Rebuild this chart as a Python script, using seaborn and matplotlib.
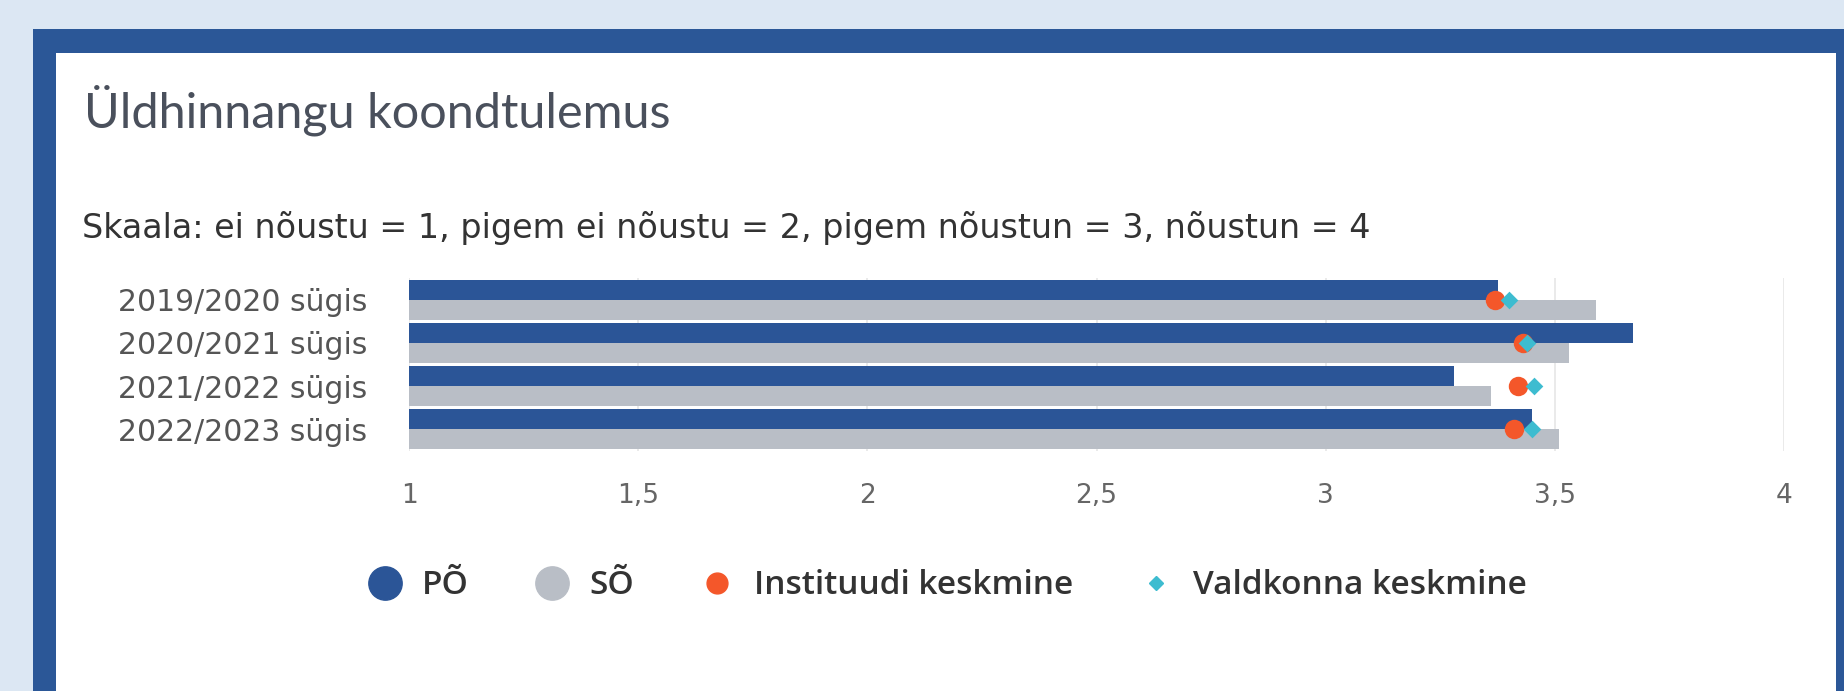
import matplotlib
matplotlib.use("Agg")
import matplotlib.pyplot as plt
from matplotlib.lines import Line2D
from matplotlib.patches import Rectangle
import pandas as pd
import seaborn as sns

# chart data
categories = ["2019/2020 sügis", "2020/2021 sügis", "2021/2022 sügis", "2022/2023 sügis"]
series_names = ["PÕ", "SÕ"]
po_values = [3.375, 3.67, 3.28, 3.45]
so_values = [3.59, 3.53, 3.36, 3.51]
instituut_avg = [3.37, 3.43, 3.42, 3.41]
valdkond_avg = [3.40, 3.44, 3.455, 3.45]
x_ticks = [1, 1.5, 2, 2.5, 3, 3.5, 4]
x_tick_labels = ["1", "1,5", "2", "2,5", "3", "3,5", "4"]
legend_labels = ["PÕ", "SÕ", "Instituudi keskmine", "Valdkonna keskmine"]

title = "Üldhinnangu koondtulemus"
subtitle = "Skaala: ei nõustu = 1, pigem ei nõustu = 2, pigem nõustun = 3, nõustun = 4"

# colours
PAGE_BG = "#dce7f3"
FRAME = "#2b5797"
PO_COLOR = "#2b5597"
SO_COLOR = "#b9bec6"
INST_COLOR = "#f4572a"
VALD_COLOR = "#3dbcd0"

W, H = 1844, 691

sns.set_theme(style="white")
plt.rcParams["font.family"] = ["DejaVu Sans"]

fig = plt.figure(figsize=(W / 100, H / 100), dpi=100)
fig.patch.set_facecolor(PAGE_BG)

# dark blue frame and white card
fig.add_artist(Rectangle((33 / W, 0), 1, 1 - 29 / H, transform=fig.transFigure,
                         facecolor=FRAME, edgecolor="none", zorder=0))
fig.add_artist(Rectangle((56 / W, 0), (1836 - 56) / W, 1 - 53 / H, transform=fig.transFigure,
                         facecolor="white", edgecolor="none", zorder=0))

fig.text(84 / W, 1 - 127 / H, title, fontsize=35, color="#4a505c",
         family=["Lato", "DejaVu Sans"], va="baseline", ha="left")
fig.text(82 / W, 1 - 238 / H, subtitle, fontsize=24, color="#333333",
         family=["DejaVu Sans"], va="baseline", ha="left")

# plot area
top, bottom = 278, 451
ax = fig.add_axes([409 / W, 1 - bottom / H, (1784 - 409) / W, (bottom - top) / H])
ax.set_facecolor("none")

df = pd.DataFrame({
    "period": categories * 2,
    "value": po_values + so_values,
    "series": [series_names[0]] * len(categories) + [series_names[1]] * len(categories),
})

sns.barplot(data=df, x="value", y="period", hue="series", order=categories,
            hue_order=series_names, palette=[PO_COLOR, SO_COLOR], saturation=1,
            width=0.92, orient="h", legend=False, linewidth=0, ax=ax, zorder=2)

sns.stripplot(x=instituut_avg, y=categories, order=categories, jitter=False,
              color=INST_COLOR, size=14, marker="o", linewidth=0, ax=ax, zorder=3)
sns.stripplot(x=valdkond_avg, y=categories, order=categories, jitter=False,
              color=VALD_COLOR, size=9, marker="D", linewidth=0, ax=ax, zorder=4)

ax.set_xlim(1, 4)
ax.set_ylim(len(categories) - 0.5, -0.5)
ax.set_xticks(x_ticks)
ax.set_xticklabels(x_tick_labels)
ax.grid(axis="x", color="#e6e6e6", linewidth=1.2, zorder=0)
ax.set_axisbelow(True)
for s in ax.spines.values():
    s.set_visible(False)
ax.set_xlabel("")
ax.set_ylabel("")
ax.tick_params(axis="x", length=0, pad=23, labelsize=19, labelcolor="#666666")
ax.tick_params(axis="y", length=0, pad=30, labelsize=21.5, labelcolor="#555555")

handles = [
    Line2D([], [], linestyle="none", marker="o", markersize=24, color=PO_COLOR),
    Line2D([], [], linestyle="none", marker="o", markersize=24, color=SO_COLOR),
    Line2D([], [], linestyle="none", marker="o", markersize=15, color=INST_COLOR),
    Line2D([], [], linestyle="none", marker="D", markersize=7, color=VALD_COLOR),
]
leg = fig.legend(handles, legend_labels, loc="center", bbox_to_anchor=(0.514, 1 - 586 / H),
                 ncol=4, frameon=False, handlelength=1.0, handletextpad=0.6,
                 columnspacing=2.0,
                 prop={"family": ["Open Sans", "DejaVu Sans"], "weight": "semibold", "size": 24})
for t in leg.get_texts():
    t.set_color("#333333")

fig.savefig("out.png", dpi=100, facecolor=fig.get_facecolor())
